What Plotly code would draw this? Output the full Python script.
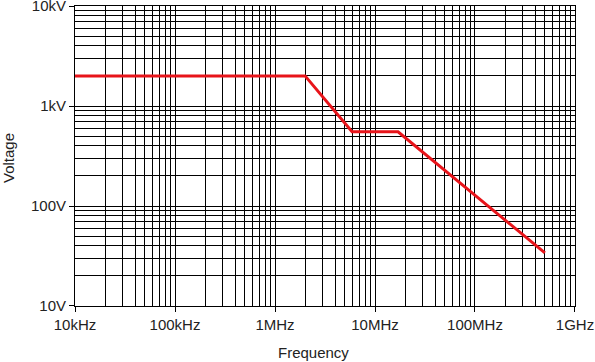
import plotly.graph_objects as go

freq_hz = [1e4, 2.0e6, 5.9e6, 1.7e7, 5.0e8]
voltage_v = [2000, 2000, 553, 553, 34]

x_tick_vals = [1e4, 1e5, 1e6, 1e7, 1e8, 1e9]
x_tick_text = ["10kHz", "100kHz", "1MHz", "10MHz", "100MHz", "1GHz"]
y_tick_vals = [10, 100, 1000, 10000]
y_tick_text = ["10V", "100V", "1kV", "10kV"]

x_minor = [m * 10 ** e for e in range(4, 9) for m in range(2, 10)]
y_minor = [m * 10 ** e for e in range(1, 4) for m in range(2, 10)]

fig = go.Figure()
fig.add_trace(go.Scatter(x=freq_hz, y=voltage_v, mode="lines",
                         line=dict(color="#e8141a", width=3), showlegend=False,
                         hoverinfo="skip"))

font = dict(family="Liberation Sans, Arial, sans-serif", size=15, color="#222")

common = dict(showgrid=True, gridcolor="black", gridwidth=1,
              showline=True, linecolor="black", linewidth=1, mirror=True,
              ticks="outside", ticklen=5, tickcolor="black", tickwidth=1,
              tickfont=font, zeroline=False, ticklabeloverflow="allow",
              automargin=False)

eps = 1e-4
fig.update_xaxes(type="log", range=[4 - eps, 9 + eps], tickmode="array",
                 tickvals=x_tick_vals, ticktext=x_tick_text,
                 minor=dict(tickmode="array", tickvals=x_minor, showgrid=True,
                            gridcolor="black", gridwidth=1, ticks=""),
                 **common)
fig.update_yaxes(type="log", range=[1 - eps, 4 + eps], tickmode="array",
                 tickvals=y_tick_vals, ticktext=y_tick_text,
                 minor=dict(tickmode="array", tickvals=y_minor, showgrid=True,
                            gridcolor="black", gridwidth=1, ticks=""),
                 **common)

fig.update_layout(
    width=595, height=362,
    margin=dict(l=75, r=20, t=6, b=56, autoexpand=False),
    paper_bgcolor="white", plot_bgcolor="white",
    font=font,
)
fig.add_annotation(text="Frequency", xref="x domain", yref="y domain",
                   x=(313 - 75) / 500, y=-(352 - 306) / 300,
                   showarrow=False, font=font, xanchor="center", yanchor="middle")
fig.add_annotation(text="Voltage", xref="x domain", yref="y domain",
                   x=-(75 - 9) / 500, y=(306 - 158) / 300, textangle=-90,
                   showarrow=False, font=font, xanchor="center", yanchor="middle")

fig.write_html("out.html", config={"displayModeBar": False},
               post_script="document.body.style.margin='0';document.body.style.padding='0';")
